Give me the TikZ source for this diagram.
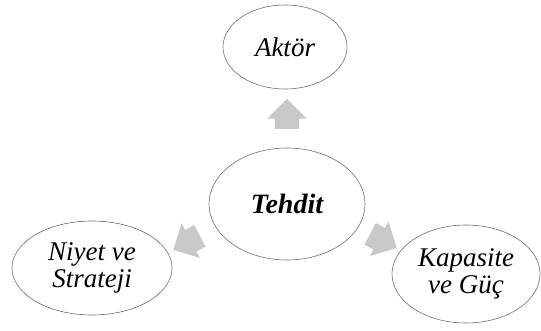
\documentclass[tikz,border=0pt]{standalone}
\usepackage{fontspec}
\setmainfont{Liberation Serif}
\usetikzlibrary{shapes.geometric,shapes.arrows}

\definecolor{blockgray}{RGB}{200,200,200}
\definecolor{rimgray}{RGB}{110,110,110}

\tikzset{
    oval/.style={draw=rimgray, line width=0.6pt, ellipse, inner sep=0pt, align=center,
        font=\fontsize{27}{27}\selectfont\itshape},
    fatarrow/.style={single arrow, fill=blockgray, draw=none, inner sep=0pt,
        minimum height=30pt, single arrow head extend=7.5pt}
}

\begin{document}
\begin{tikzpicture}[x=1pt, y=1pt]
        \useasboundingbox (0,0) rectangle (541,330);

        \node[oval, minimum width=124pt, minimum height=84pt] (aktor) at (285,283) {Akt\"or};
        \node[oval, minimum width=156pt, minimum height=112pt, font=\fontsize{28}{28}\selectfont\bfseries\itshape] (tehdit) at (287,126) {Tehdit};
        \node[oval, minimum width=160pt, minimum height=94pt] (niyet) at (92,62) {Niyet ve\\Strateji};
        \node[oval, minimum width=148pt, minimum height=98pt] (kapasite) at (466,56) {Kapasite\\ve G\"u\c{c}};

        \node[fatarrow, rotate=90] (toaktor) at (287,210) {\rule{0pt}{24pt}};
        \node[fatarrow, rotate=208] (toniyet) at (192,90) {\rule{0pt}{24pt}};
        \node[fatarrow, rotate=-28] (tokapasite) at (378,92) {\rule{0pt}{24pt}};
    \end{tikzpicture}
\end{document}
